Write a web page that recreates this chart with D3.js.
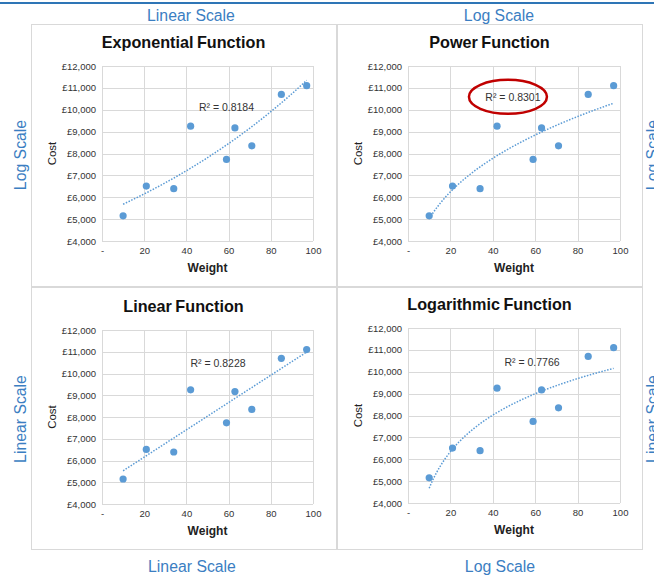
<!DOCTYPE html>
<html>
<head>
<meta charset="utf-8">
<script src="https://cdn.jsdelivr.net/npm/d3@7"></script>
<style>
  html, body { margin: 0; padding: 0; background: #fff; }
  svg { display: block; font-family: "Liberation Sans", Arial, sans-serif; }
</style>
</head>
<body>
<div id="chart"></div>
<script>
// ---- data ----
const weights = [10, 21, 34, 42, 59, 63, 71, 85, 97];
const costs = [5150, 6510, 6390, 9250, 7730, 9170, 8350, 10700, 11100];

const panelTitles = ["Exponential Function", "Power Function", "Linear Function", "Logarithmic Function"];
const fitTypes = ["exp", "power", "linear", "log"];
const rSquaredLabels = ["R\u00b2 = 0.8184", "R\u00b2 = 0.8301", "R\u00b2 = 0.8228", "R\u00b2 = 0.7766"];
// where Excel put the R² label, in data units [weight, cost]
const rSquaredAt = [[59, 10130], [49.5, 10590], [55, 10480], [58.5, 10450]];

const xTicks = [0, 20, 40, 60, 80, 100];
const yTicks = [4000, 5000, 6000, 7000, 8000, 9000, 10000, 11000, 12000];

const topLabels = ["Linear Scale", "Log Scale"];
const bottomLabels = ["Linear Scale", "Log Scale"];
const leftLabels = ["Log Scale", "Linear Scale"];
const rightLabels = ["Log Scale", "Linear Scale"];

// ---- layout ----
const W = 654, H = 575;
const blue = "#5b9bd5", labelBlue = "#3b7ec2", grid = "#d9d9d9";

const panels = [
  { x: 31, y: 24, w: 305, h: 262, plot: { l: 102, r: 313, t: 66, b: 241 } },
  { x: 337, y: 24, w: 305, h: 262, plot: { l: 408, r: 620, t: 66, b: 241 } },
  { x: 31, y: 287, w: 305, h: 262, plot: { l: 102, r: 313, t: 330, b: 504 } },
  { x: 337, y: 287, w: 305, h: 262, plot: { l: 408, r: 620, t: 328, b: 503 } }
];

const svg = d3.select("#chart").append("svg")
  .attr("width", W).attr("height", H);

svg.append("rect").attr("width", W).attr("height", H).attr("fill", "#fff");

// top rule
svg.append("line")
  .attr("x1", 0).attr("x2", W).attr("y1", 3).attr("y2", 3)
  .attr("stroke", "#2e75b6").attr("stroke-width", 2);

// least squares on transformed values
function fitTrend(type) {
  const fx = (type === "power" || type === "log") ? Math.log : (v => v);
  const fy = (type === "exp" || type === "power") ? Math.log : (v => v);
  const u = weights.map(fx), v = costs.map(fy);
  const mu = d3.mean(u), mv = d3.mean(v);
  const b = d3.sum(u, (d, i) => (d - mu) * (v[i] - mv)) / d3.sum(u, d => (d - mu) * (d - mu));
  const a = mv - b * mu;
  const back = (type === "exp" || type === "power") ? Math.exp : (t => t);
  return x => back(a + b * fx(x));
}

panels.forEach((p, i) => {
  const g = svg.append("g");

  g.append("rect")
    .attr("x", p.x + 0.5).attr("y", p.y + 0.5)
    .attr("width", p.w).attr("height", p.h)
    .attr("fill", "#fff").attr("stroke", grid);

  const x = d3.scaleLinear().domain([0, 100]).range([p.plot.l, p.plot.r]);
  const y = d3.scaleLinear().domain([4000, 12000]).range([p.plot.b, p.plot.t]);

  // gridlines
  g.append("g").selectAll("line").data(xTicks).join("line")
    .attr("x1", d => Math.round(x(d)) + 0.5).attr("x2", d => Math.round(x(d)) + 0.5)
    .attr("y1", p.plot.t).attr("y2", p.plot.b)
    .attr("stroke", grid);
  g.append("g").selectAll("line").data(yTicks).join("line")
    .attr("y1", d => Math.round(y(d)) + 0.5).attr("y2", d => Math.round(y(d)) + 0.5)
    .attr("x1", p.plot.l).attr("x2", p.plot.r)
    .attr("stroke", grid);

  // axes (labels only, Excel style)
  const fmtCost = d3.format(",");
  const yAxis = g.append("g")
    .attr("transform", `translate(${p.plot.l},0)`)
    .call(d3.axisLeft(y).tickValues(yTicks).tickSize(0).tickPadding(6).tickFormat(d => "\u00a3" + fmtCost(d)));
  const xAxis = g.append("g")
    .attr("transform", `translate(0,${p.plot.b})`)
    .call(d3.axisBottom(x).tickValues(xTicks).tickSize(0).tickPadding(6).tickFormat(d => d === 0 ? "-" : d));
  [xAxis, yAxis].forEach(a => {
    a.select(".domain").remove();
    a.selectAll("text")
      .attr("fill", "#333")
      .style("font-family", "'Liberation Sans', Arial, sans-serif")
      .style("font-size", "9.5px");
  });

  // title
  const cx = p.x + p.w / 2;
  g.append("text")
    .attr("x", cx).attr("y", p.plot.t - 18)
    .attr("text-anchor", "middle")
    .attr("font-size", 16.2).attr("font-weight", "bold").attr("fill", "#111")
    .attr("word-spacing", -1)
    .text(panelTitles[i]);

  // axis titles
  g.append("text")
    .attr("transform", `translate(${p.plot.l - 46},${(p.plot.t + p.plot.b) / 2}) rotate(-90)`)
    .attr("text-anchor", "middle")
    .attr("font-size", 11.5).attr("fill", "#222")
    .text("Cost");
  g.append("text")
    .attr("x", (p.plot.l + p.plot.r) / 2).attr("y", p.plot.b + 31)
    .attr("text-anchor", "middle")
    .attr("font-size", 12).attr("font-weight", "bold").attr("fill", "#222")
    .text("Weight");

  // trendline
  const f = fitTrend(fitTypes[i]);
  const [x0, x1] = d3.extent(weights);
  const xs = d3.range(x0, x1 + 0.001, 0.5);
  g.append("path")
    .datum(xs)
    .attr("d", d3.line().x(d => x(d)).y(d => y(f(d))))
    .attr("fill", "none")
    .attr("stroke", blue).attr("stroke-width", 1.5)
    .attr("stroke-dasharray", "1.5,1.5");

  // points
  g.append("g").selectAll("circle").data(weights).join("circle")
    .attr("cx", d => x(d))
    .attr("cy", (d, j) => y(costs[j]))
    .attr("r", 3.6)
    .attr("fill", blue);

  // R² label
  const [rx, ry] = rSquaredAt[i];
  g.append("text")
    .attr("x", x(rx)).attr("y", y(ry))
    .attr("dy", "0.35em")
    .attr("text-anchor", "middle")
    .attr("font-size", 10.5).attr("fill", "#333")
    .text(rSquaredLabels[i]);

  if (i === 1) {
    g.append("ellipse")
      .attr("cx", x(rx) - 5).attr("cy", y(ry))
      .attr("rx", 39).attr("ry", 17)
      .attr("fill", "none")
      .attr("stroke", "#c00000").attr("stroke-width", 2.5);
  }
});

// outer scale labels
const sideFont = 15.8;
topLabels.forEach((t, i) => {
  svg.append("text")
    .attr("x", [191, 499][i]).attr("y", 21)
    .attr("text-anchor", "middle")
    .attr("font-size", sideFont).attr("fill", labelBlue)
    .text(t);
});
bottomLabels.forEach((t, i) => {
  svg.append("text")
    .attr("x", [192, 500][i]).attr("y", 572)
    .attr("text-anchor", "middle")
    .attr("font-size", sideFont).attr("fill", labelBlue)
    .text(t);
});
leftLabels.forEach((t, i) => {
  svg.append("text")
    .attr("transform", `translate(26,${[155, 419][i]}) rotate(-90)`)
    .attr("text-anchor", "middle")
    .attr("font-size", sideFont).attr("fill", labelBlue)
    .text(t);
});
// these run off the right edge in the original, too
rightLabels.forEach((t, i) => {
  svg.append("text")
    .attr("transform", `translate(658,${[155, 419][i]}) rotate(-90)`)
    .attr("text-anchor", "middle")
    .attr("font-size", sideFont).attr("fill", labelBlue)
    .text(t);
});
</script>
</body>
</html>
